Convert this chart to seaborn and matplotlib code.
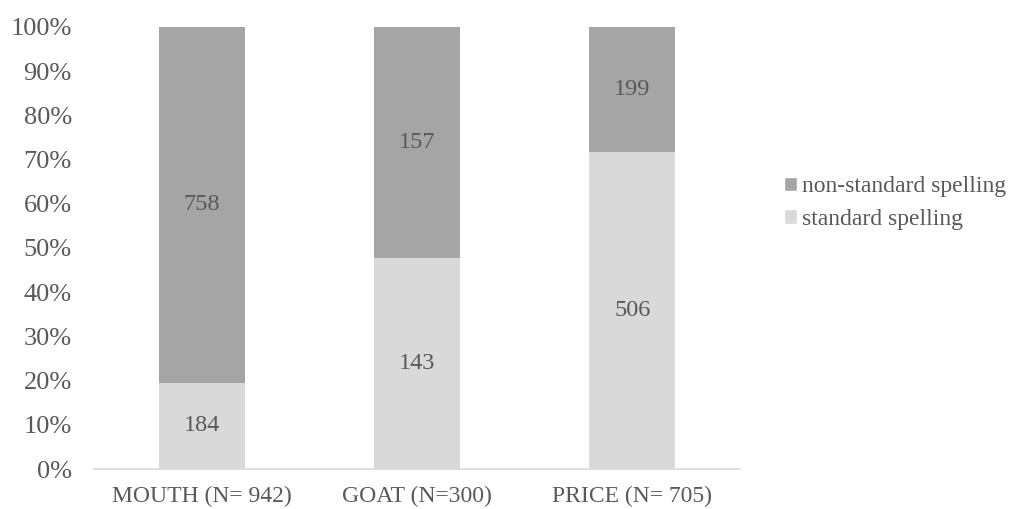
import matplotlib
matplotlib.use("Agg")
import matplotlib.pyplot as plt
from matplotlib.patches import Patch
import seaborn as sns
import pandas as pd

# Spelling counts per lexical set
categories = ["MOUTH (N= 942)", "GOAT (N=300)", "PRICE (N= 705)"]
standard = [184, 143, 506]
non_standard = [758, 157, 199]
y_ticks = [0, 10, 20, 30, 40, 50, 60, 70, 80, 90, 100]

totals = [s + n for s, n in zip(standard, non_standard)]
df = pd.DataFrame({
    "category": categories,
    "standard": standard,
    "non_standard": non_standard,
    "std_pct": [100 * s / t for s, t in zip(standard, totals)],
    "total_pct": [100.0 for _ in totals],
})

sns.set_theme(style="white")
plt.rcParams["font.family"] = ["Liberation Serif", "DejaVu Serif"]

text_color = "#595959"
dark = "#A5A5A5"
light = "#D9D9D9"

fig = plt.figure(figsize=(10.1, 5.09), dpi=100)
ax = fig.add_axes([94 / 1010, 1 - 469 / 509, (740 - 94) / 1010, (469 - 27) / 509])

# full-height bars form the non-standard segment; standard share drawn on top
sns.barplot(data=df, x="category", y="total_pct", color=dark, width=0.4,
            saturation=1, ax=ax, linewidth=0)
sns.barplot(data=df, x="category", y="std_pct", color=light, width=0.4,
            saturation=1, ax=ax, linewidth=0)

for i, row in df.iterrows():
    ax.text(i, row["std_pct"] / 2, str(row["standard"]), ha="center", va="center",
            fontsize=17.5, color=text_color)
    ax.text(i, row["std_pct"] + (100 - row["std_pct"]) / 2, str(row["non_standard"]),
            ha="center", va="center", fontsize=17.5, color=text_color)

ax.set_ylim(0, 100)
ax.set_xlim(-0.5, 2.5)
ax.set_yticks(y_ticks)
ax.set_yticklabels([f"{t}%" for t in y_ticks])
ax.set_xlabel("")
ax.set_ylabel("")
ax.tick_params(axis="both", length=0, labelcolor=text_color)
ax.tick_params(axis="y", pad=16, labelsize=19)
ax.tick_params(axis="x", pad=12, labelsize=17)

for side in ["top", "right", "left"]:
    ax.spines[side].set_visible(False)
ax.spines["bottom"].set_color(light)
ax.spines["bottom"].set_linewidth(1.2)

handles = [Patch(facecolor=dark, label="non-standard spelling"),
           Patch(facecolor=light, label="standard spelling")]
fig.legend(handles=handles, loc="center left", bbox_to_anchor=(765 / 1010, 1 - 203 / 509),
           frameon=False, fontsize=17, labelcolor=text_color, handlelength=0.55,
           handleheight=0.55, handletextpad=0.2, labelspacing=0.5, borderpad=0.3)

fig.savefig("out.png", dpi=100)
